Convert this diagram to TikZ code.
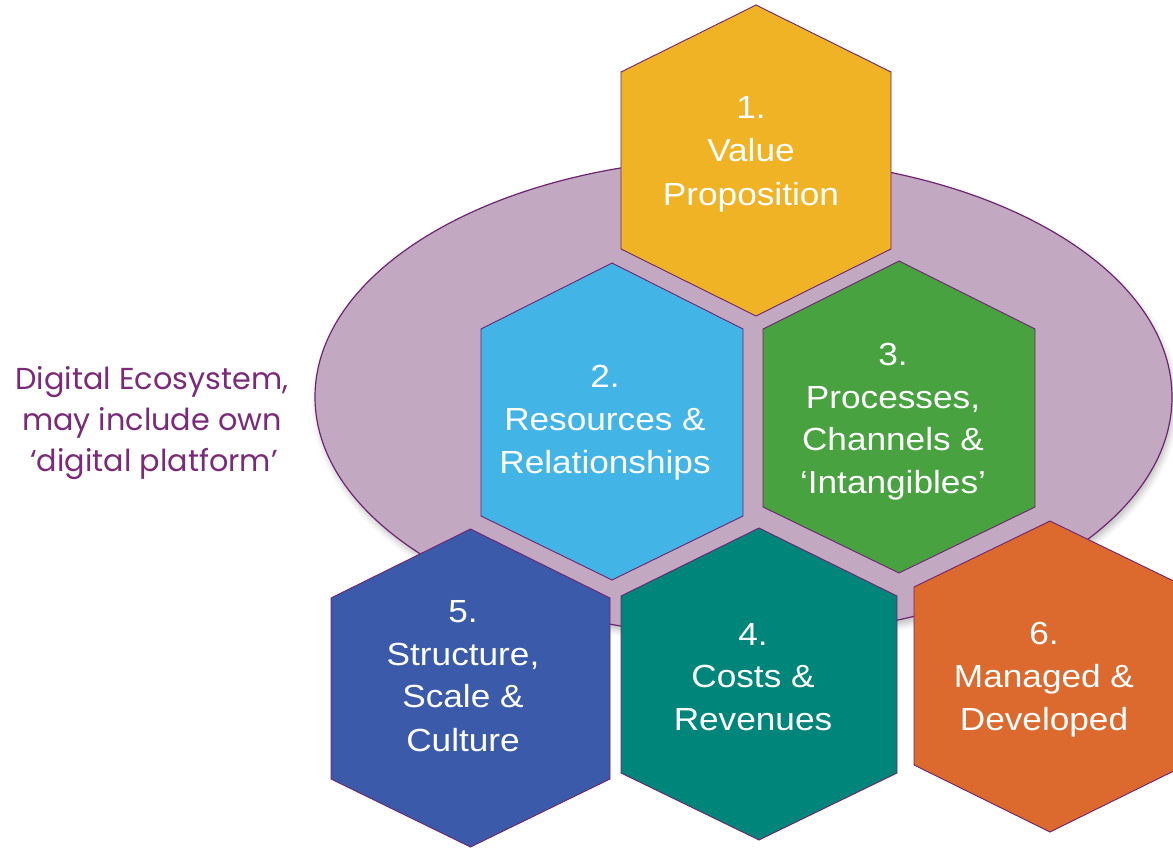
\documentclass[tikz,border=0pt]{standalone}
\usepackage{fontspec}
\usetikzlibrary{shadows.blur}
\newfontfamily\hexfont[FakeStretch=1.1]{Liberation Sans}
\newfontfamily\sidefont{Poppins}
\definecolor{ellfill}{HTML}{C2A9C1}
\definecolor{purpleline}{HTML}{6E2372}
\definecolor{sidetext}{HTML}{7A2A78}
\definecolor{hexA}{HTML}{EFB325}
\definecolor{hexB}{HTML}{42B4E6}
\definecolor{hexC}{HTML}{48A240}
\definecolor{hexD}{HTML}{00857A}
\definecolor{hexE}{HTML}{3B5BAA}
\definecolor{hexF}{HTML}{DC6A2F}
\newcommand\hexshape[7]{%
  \draw[hexline, fill=#1] (#2,#3) -- ({#2+#7},#4) -- ({#2+#7},#5) -- (#2,#6)
    -- ({#2-#7},#5) -- ({#2-#7},#4) -- cycle;}
\begin{document}
\begin{tikzpicture}[x=1pt, y=-1pt,
  hexline/.style={draw=purpleline, line width=0.9pt, line join=miter},
  hextext/.style={anchor=base, text=white, inner sep=0pt, font=\hexfont\fontsize{32}{38}\selectfont},
  sidelabel/.style={anchor=base, text=sidetext, inner sep=0pt, font=\sidefont\fontsize{30.3}{36}\selectfont}]
\useasboundingbox (0,0) rectangle (1173,848);
\clip (0,0) rectangle (1173,848);
% ecosystem ellipse
\fill[ellfill, draw=purpleline, line width=1.2pt,
  blur shadow={shadow xshift=2pt, shadow yshift=-5pt, shadow blur radius=6pt, shadow opacity=25}]
  (743.5,397) ellipse [x radius=428.5, y radius=239];
% hexagons
\hexshape{hexA}{756}{5}{72}{249}{316}{135}
\hexshape{hexB}{612}{263}{329}{516}{580}{131}
\hexshape{hexC}{899}{261}{329}{507}{573}{136}
\hexshape{hexD}{759}{528}{596}{773}{840}{138}
\hexshape{hexE}{470.5}{529}{598}{779}{847}{139.5}
\hexshape{hexF}{1050}{521}{587}{765}{832}{136}
% texts
\node[hextext] (t1a) at (751,119) {1.};
\node[hextext] (t1b) at (751,162) {Value};
\node[hextext] (t1c) at (751,205) {Proposition};
\node[hextext] (t2a) at (605,387) {2.};
\node[hextext] (t2b) at (605,430) {Resources \&};
\node[hextext] (t2c) at (605,473) {Relationships};
\node[hextext] (t3a) at (893,365) {3.};
\node[hextext] (t3b) at (893,408) {Processes,};
\node[hextext] (t3c) at (893,450) {Channels \&};
\node[hextext] (t3d) at (893,493) {‘Intangibles’};
\node[hextext] (t4a) at (753,645) {4.};
\node[hextext] (t4b) at (753,687) {Costs \&};
\node[hextext] (t4c) at (753,730) {Revenues};
\node[hextext] (t5a) at (463,622) {5.};
\node[hextext] (t5b) at (463,665) {Structure,};
\node[hextext] (t5c) at (463,707) {Scale \&};
\node[hextext] (t5d) at (463,751) {Culture};
\node[hextext] (t6a) at (1044,644) {6.};
\node[hextext] (t6b) at (1044,687) {Managed \&};
\node[hextext] (t6c) at (1044,730) {Developed};
% side label
\node[sidelabel] (s1) at (152,389) {Digital Ecosystem,};
\node[sidelabel] (s2) at (152,430) {may include own};
\node[sidelabel] (s3) at (154,471) {‘digital platform’};
\end{tikzpicture}
\end{document}
